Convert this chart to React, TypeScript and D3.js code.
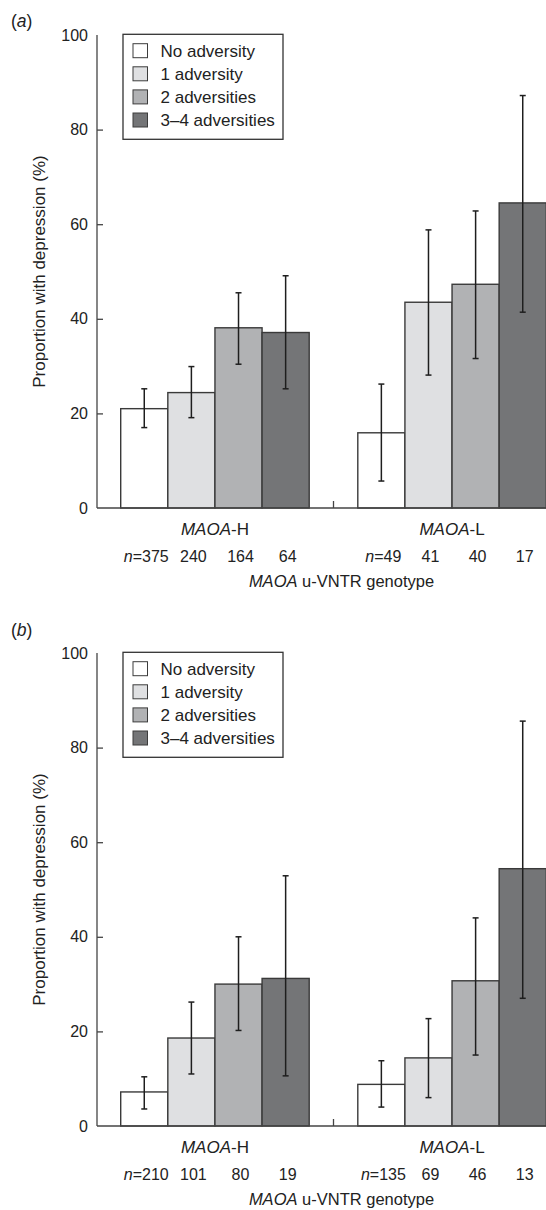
import React, { useEffect, useRef } from 'react';
import * as d3 from 'd3';

const genotypes = ['MAOA-H', 'MAOA-L'];
const adversities = ['No adversity', '1 adversity', '2 adversities', '3–4 adversities'];
const fills = ['#ffffff', '#dfe0e2', '#b1b2b4', '#747577'];
const yTicks = [0, 20, 40, 60, 80, 100];

// panel (a)
const propA_H = [21.0, 24.4, 38.1, 37.1];
const lowA_H = [17.0, 19.1, 30.4, 25.2];
const highA_H = [25.2, 29.9, 45.5, 49.1];
const propA_L = [15.9, 43.5, 47.3, 64.5];
const lowA_L = [5.7, 28.1, 31.6, 41.4];
const highA_L = [26.2, 58.8, 62.8, 87.2];
const nA_H = [375, 240, 164, 64];
const nA_L = [49, 41, 40, 17];

// panel (b)
const propB_H = [7.2, 18.6, 30.0, 31.2];
const lowB_H = [3.6, 11.0, 20.2, 10.6];
const highB_H = [10.4, 26.2, 40.0, 52.9];
const propB_L = [8.8, 14.4, 30.7, 54.4];
const lowB_L = [4.0, 6.0, 15.0, 27.0];
const highB_L = [13.8, 22.7, 44.0, 85.6];
const nB_H = [210, 101, 80, 19];
const nB_L = [135, 69, 46, 13];

const font = '"Liberation Sans", Arial, sans-serif';

type Row = { g: string; a: string; i: number; v: number; lo: number; hi: number; n: number };

function buildRows(prop: number[][], low: number[][], high: number[][], ns: number[][]): Row[] {
  const rows: Row[] = [];
  genotypes.forEach((g, gi) => {
    adversities.forEach((a, i) => {
      rows.push({ g, a, i, v: prop[gi][i], lo: low[gi][i], hi: high[gi][i], n: ns[gi][i] });
    });
  });
  return rows;
}

const panels = [
  {
    label: 'a',
    top: 35,
    labelY: 27,
    rows: buildRows([propA_H, propA_L], [lowA_H, lowA_L], [highA_H, highA_L], [nA_H, nA_L]),
  },
  {
    label: 'b',
    top: 653,
    labelY: 636,
    rows: buildRows([propB_H, propB_L], [lowB_H, lowB_L], [highB_H, highB_L], [nB_H, nB_L]),
  },
];

const App = () => {
  const ref = useRef<SVGSVGElement>(null);

  useEffect(() => {
    const svg = d3.select(ref.current);
    svg.selectAll('*').remove();

    const axisX = 97;
    const plotH = 473;
    const x0 = d3.scaleBand().domain(genotypes).range([axisX, 570]).paddingInner(0.205).paddingOuter(0.1);
    const x1 = d3.scaleBand().domain(adversities).range([0, x0.bandwidth()]);
    const color = d3.scaleOrdinal<string>().domain(adversities).range(fills);

    panels.forEach((p) => {
      const y = d3.scaleLinear().domain([0, 100]).range([p.top + plotH, p.top]);
      const g = svg.append('g').attr('font-family', font);

      // panel letter
      const lt = g.append('text').attr('x', 11).attr('y', p.labelY).attr('font-size', 17.5).attr('fill', '#222');
      lt.append('tspan').text('(');
      lt.append('tspan').attr('font-style', 'italic').text(p.label);
      lt.append('tspan').text(')');

      // bars
      g.selectAll('rect.bar')
        .data(p.rows)
        .enter()
        .append('rect')
        .attr('class', 'bar')
        .attr('x', (d) => x0(d.g)! + x1(d.a)!)
        .attr('y', (d) => y(d.v))
        .attr('width', x1.bandwidth())
        .attr('height', (d) => y(0) - y(d.v))
        .attr('fill', (d) => color(d.a))
        .attr('stroke', '#3a3a3a')
        .attr('stroke-width', 1.4);

      // error bars
      const eb = g.selectAll('g.err').data(p.rows).enter().append('g').attr('class', 'err');
      const cx = (d: Row) => x0(d.g)! + x1(d.a)! + x1.bandwidth() / 2;
      eb.append('line')
        .attr('x1', cx).attr('x2', cx)
        .attr('y1', (d) => y(d.lo)).attr('y2', (d) => y(d.hi))
        .attr('stroke', '#1e1e1e').attr('stroke-width', 1.5);
      eb.append('line')
        .attr('x1', (d) => cx(d) - 3).attr('x2', (d) => cx(d) + 3)
        .attr('y1', (d) => y(d.hi)).attr('y2', (d) => y(d.hi))
        .attr('stroke', '#1e1e1e').attr('stroke-width', 1.5);
      eb.append('line')
        .attr('x1', (d) => cx(d) - 3).attr('x2', (d) => cx(d) + 3)
        .attr('y1', (d) => y(d.lo)).attr('y2', (d) => y(d.lo))
        .attr('stroke', '#1e1e1e').attr('stroke-width', 1.5);

      // y axis
      const ya = g.append('g').attr('transform', `translate(${axisX},0)`)
        .call(d3.axisRight(y).tickValues(yTicks).tickSize(6).tickFormat(() => ''));
      ya.select('.domain').attr('stroke', '#444').attr('stroke-width', 1.3).attr('d', `M0,${y(100)}V${y(0)}`);
      ya.selectAll('.tick line').attr('stroke', '#444').attr('stroke-width', 1.3);
      ya.selectAll('.tick').filter((d) => d === 0 || d === 100).select('line').remove();
      g.selectAll('text.ytick')
        .data(yTicks)
        .enter()
        .append('text')
        .attr('class', 'ytick')
        .attr('x', axisX - 9)
        .attr('y', (d) => y(d))
        .attr('dy', '0.35em')
        .attr('text-anchor', 'end')
        .attr('font-size', 16)
        .attr('fill', '#222')
        .text((d) => d);

      g.append('text')
        .attr('transform', `translate(39,${(y(0) + y(100)) / 2}) rotate(-90)`)
        .attr('text-anchor', 'middle')
        .attr('dy', '0.35em')
        .attr('font-size', 17)
        .attr('fill', '#222')
        .text('Proportion with depression (%)');

      // x axis
      g.append('line')
        .attr('x1', axisX).attr('x2', 546)
        .attr('y1', y(0)).attr('y2', y(0))
        .attr('stroke', '#444').attr('stroke-width', 1.5);
      const midX = (x0('MAOA-H')! + x0.bandwidth() + x0('MAOA-L')!) / 2;
      g.append('line')
        .attr('x1', midX).attr('x2', midX)
        .attr('y1', y(0)).attr('y2', y(0) - 7)
        .attr('stroke', '#444').attr('stroke-width', 1.3);

      genotypes.forEach((gn) => {
        const t = g.append('text')
          .attr('x', x0(gn)! + x0.bandwidth() / 2)
          .attr('y', y(0) + 27)
          .attr('text-anchor', 'middle')
          .attr('font-size', 17)
          .attr('fill', '#222');
        const [gene, allele] = gn.split('-');
        t.append('tspan').attr('font-style', 'italic').text(gene);
        t.append('tspan').text('-' + allele);
      });

      g.selectAll('text.nlab')
        .data(p.rows)
        .enter()
        .append('text')
        .attr('class', 'nlab')
        .attr('x', (d) => cx(d) + 2)
        .attr('y', y(0) + 54)
        .attr('text-anchor', 'middle')
        .attr('font-size', 16)
        .attr('fill', '#222')
        .each(function (d) {
          const t = d3.select(this);
          if (d.i === 0) {
            t.append('tspan').attr('font-style', 'italic').text('n');
            t.append('tspan').text('=');
          }
          t.append('tspan').text(d.n);
        });

      const gt = g.append('text')
        .attr('x', midX + 8)
        .attr('y', y(0) + 79)
        .attr('text-anchor', 'middle')
        .attr('font-size', 16.5)
        .attr('fill', '#222');
      gt.append('tspan').attr('font-style', 'italic').text('MAOA');
      gt.append('tspan').text(' u-VNTR genotype');

      // legend
      const lx = 123;
      const ly = p.top - 0.7;
      g.append('rect')
        .attr('x', lx).attr('y', ly).attr('width', 160).attr('height', 105)
        .attr('fill', '#fff').attr('stroke', '#333').attr('stroke-width', 1.3);
      const items = g.selectAll('g.leg').data(adversities).enter().append('g').attr('class', 'leg')
        .attr('transform', (d, i) => `translate(${lx + 10},${ly + 16.4 + i * 23.1})`);
      items.append('rect')
        .attr('x', 0).attr('y', -7).attr('width', 14.5).attr('height', 14)
        .attr('fill', (d) => color(d))
        .attr('stroke', '#3c3c3c').attr('stroke-width', 1);
      items.append('text')
        .attr('x', 27.5)
        .attr('dy', '0.35em')
        .attr('font-size', 17)
        .attr('fill', '#222')
        .text((d) => d);
    });
  }, []);

  return (
    <svg
      ref={ref}
      width={546}
      height={1210}
      style={{ position: 'absolute', left: 0, top: 0, background: '#fff' }}
    />
  );
};

export default App;
